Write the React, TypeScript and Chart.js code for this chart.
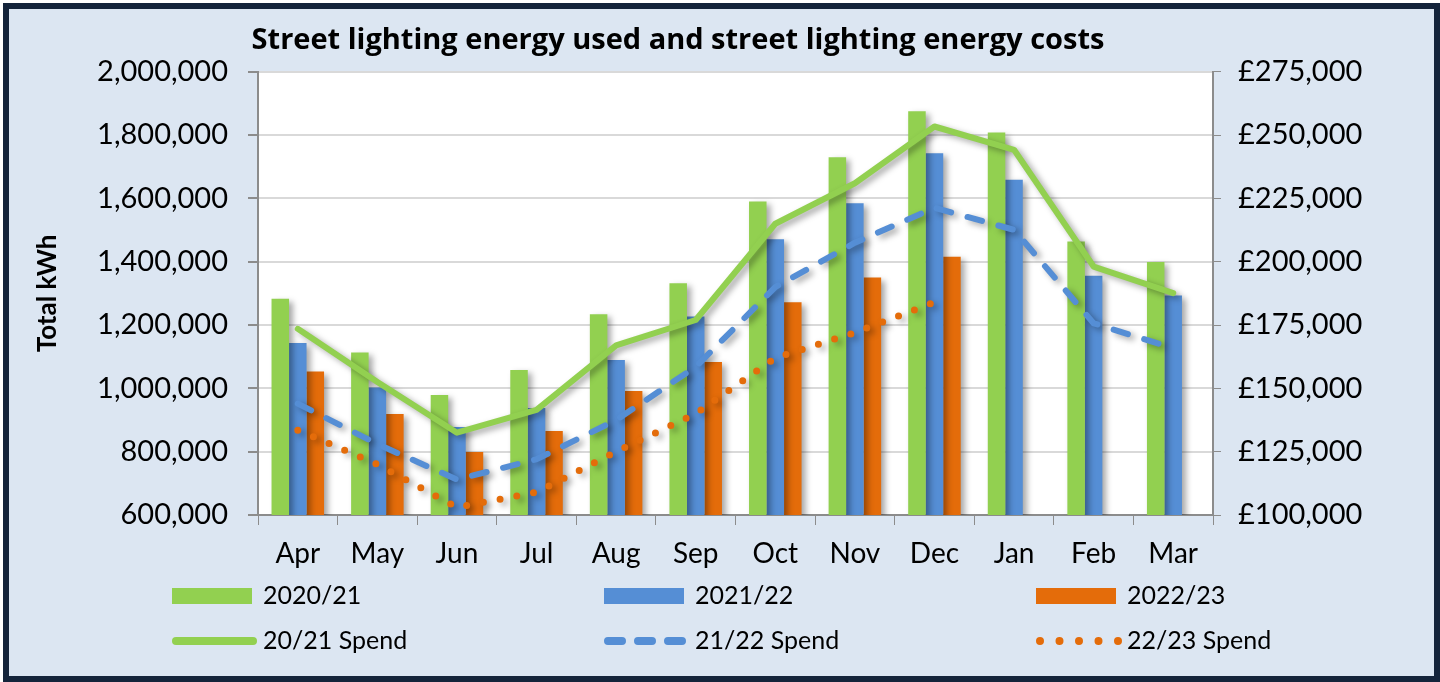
import React, { useEffect, useRef } from 'react';
import { Chart, registerables } from 'chart.js';

Chart.register(...registerables);

const months = ['Apr', 'May', 'Jun', 'Jul', 'Aug', 'Sep', 'Oct', 'Nov', 'Dec', 'Jan', 'Feb', 'Mar'];

const kwh2021 = [1283000, 1113000, 979000, 1058000, 1234000, 1332000, 1590000, 1730000, 1875000, 1808000, 1464000, 1399000];
const kwh2122 = [1143000, 1003000, 878000, 938000, 1090000, 1227000, 1471000, 1585000, 1743000, 1659000, 1356000, 1293000];
const kwh2223 = [1053000, 919000, 799000, 865000, 992000, 1083000, 1272000, 1350000, 1416000, null, null, null];

const spend2021 = [173500, 152500, 132500, 141500, 167000, 177000, 215000, 231000, 253400, 244200, 198100, 187600];
const spend2122 = [144000, 128000, 114000, 122000, 137500, 158500, 190000, 207500, 221300, 212600, 175700, 165800];
const spend2223 = [133500, 120000, 103000, 109000, 125000, 140000, 162000, 172000, 184000, null, null, null];

const kwhAxis = [600000, 2000000, 200000];
const spendAxis = [100000, 275000, 25000];

const seriesLabels = ['2020/21', '2021/22', '2022/23', '20/21 Spend', '21/22 Spend', '22/23 Spend'];

const GREEN = '#92d050';
const BLUE = '#558ed5';
const ORANGE = '#e46c0a';
const FONT = 'Lato, "Open Sans", sans-serif';
const TITLE_FONT = '"Open Sans", Lato, sans-serif';

const shadowPlugin = {
  id: 'excelShadow',
  beforeDatasetsDraw(chart: any) {
    const ctx = chart.ctx;
    ctx.save();
    ctx.shadowColor = 'rgba(0,0,0,0.35)';
    ctx.shadowBlur = 6;
    ctx.shadowOffsetX = 4;
    ctx.shadowOffsetY = 3;
  },
  afterDatasetsDraw(chart: any) {
    chart.ctx.restore();
  },
};

const plotBgPlugin = {
  id: 'plotBg',
  beforeDraw(chart: any) {
    const { ctx, chartArea } = chart;
    if (!chartArea) return;
    ctx.save();
    ctx.fillStyle = '#ffffff';
    ctx.fillRect(chartArea.left, chartArea.top, chartArea.right - chartArea.left, chartArea.bottom - chartArea.top);
    ctx.restore();
  },
};

const gridLegendPlugin = {
  id: 'gridLegend',
  afterDraw(chart: any, _args: any, opts: any) {
    const ctx = chart.ctx;
    const { x0, colW, y0, rowH, sample, gap, font } = opts;
    chart.data.datasets.forEach((ds: any, i: number) => {
      const col = i % 3;
      const row = Math.floor(i / 3);
      const x = x0 + col * colW;
      const y = y0 + row * rowH;
      ctx.save();
      if (ds.type === 'bar') {
        ctx.fillStyle = ds.backgroundColor;
        ctx.fillRect(x, y - 8, sample, 16);
      } else {
        ctx.strokeStyle = ds.borderColor;
        ctx.lineWidth = 8;
        ctx.lineCap = 'round';
        ctx.setLineDash(ds.legendDash || []);
        ctx.beginPath();
        ctx.moveTo(x + 4, y);
        ctx.lineTo(x + ds.legendEnd, y);
        ctx.stroke();
      }
      ctx.setLineDash([]);
      ctx.fillStyle = '#000000';
      ctx.font = font;
      ctx.textBaseline = 'middle';
      ctx.textAlign = 'left';
      ctx.fillText(ds.label, x + sample + gap, y);
      ctx.restore();
    });
  },
};

export default function App() {
  const ref = useRef<HTMLCanvasElement | null>(null);

  useEffect(() => {
    document.body.style.margin = '0';
    const canvas = ref.current;
    if (!canvas) return;
    const chart = new Chart(canvas, {
      type: 'bar',
      data: {
        labels: months,
        datasets: [
          { type: 'bar', label: seriesLabels[0], data: kwh2021, backgroundColor: GREEN, yAxisID: 'y', order: 1, barPercentage: 1, categoryPercentage: 0.66 } as any,
          { type: 'bar', label: seriesLabels[1], data: kwh2122, backgroundColor: BLUE, yAxisID: 'y', order: 1, barPercentage: 1, categoryPercentage: 0.66 } as any,
          { type: 'bar', label: seriesLabels[2], data: kwh2223, backgroundColor: ORANGE, yAxisID: 'y', order: 1, barPercentage: 1, categoryPercentage: 0.66 } as any,
          { type: 'line', label: seriesLabels[3], data: spend2021, borderColor: GREEN, backgroundColor: GREEN, borderWidth: 6, pointRadius: 0, yAxisID: 'y1', order: 0, tension: 0, borderCapStyle: 'round', borderJoinStyle: 'round', legendDash: [], legendEnd: 81 } as any,
          { type: 'line', label: seriesLabels[4], data: spend2122, borderColor: BLUE, backgroundColor: BLUE, borderWidth: 6, pointRadius: 0, yAxisID: 'y1', order: 0, tension: 0, borderDash: [15, 17], borderCapStyle: 'round', legendDash: [14, 16], legendEnd: 80 } as any,
          { type: 'line', label: seriesLabels[5], data: spend2223, borderColor: ORANGE, backgroundColor: ORANGE, borderWidth: 7, pointRadius: 0, yAxisID: 'y1', order: 0, tension: 0, borderDash: [0, 17], borderCapStyle: 'round', legendDash: [0, 19.5], legendEnd: 84 } as any,
        ],
      },
      options: {
        animation: false,
        responsive: false,
        maintainAspectRatio: false,
        devicePixelRatio: 1,
        layout: { padding: { left: -41, right: 46, top: 0, bottom: 101 } },
        plugins: {
          legend: { display: false },
          tooltip: { enabled: false },
          title: {
            display: true,
            text: 'Street lighting energy used and street lighting energy costs',
            color: '#000000',
            font: { family: TITLE_FONT, size: 29, weight: 'bold' },
            padding: { top: 14, bottom: 14 },
          },
          gridLegend: { x0: 163, colW: 432, y0: 587, rowH: 45, sample: 80, gap: 11, font: `25px ${FONT}` },
        } as any,
        scales: {
          x: {
            offset: true,
            grid: { display: true, drawOnChartArea: false, drawTicks: true, tickLength: 10, tickColor: '#8c8c8c', offset: true },
            border: { display: true, color: '#8c8c8c', width: 2 },
            ticks: { color: '#000000', font: { family: FONT, size: 28 }, padding: 12, maxRotation: 0, autoSkip: false },
            afterFit: (s: any) => { s.height = 60; },
          },
          y: {
            position: 'left',
            min: kwhAxis[0],
            max: kwhAxis[1],
            grid: { color: '#d9d9d9', lineWidth: 2, tickColor: '#8c8c8c', tickLength: 10 },
            border: { display: true, color: '#8c8c8c', width: 2 },
            ticks: {
              stepSize: kwhAxis[2],
              color: '#000000',
              font: { family: FONT, size: 29 },
              padding: 20,
              callback: (v: any) => Number(v).toLocaleString('en-GB'),
            },
            title: {
              display: true,
              text: 'Total kWh',
              color: '#000000',
              font: { family: FONT, size: 26, weight: 'bold' },
              padding: { top: 64, bottom: 0 },
            },
            afterFit: (s: any) => { s.width = 290; },
          },
          y1: {
            position: 'right',
            min: spendAxis[0],
            max: spendAxis[1],
            grid: { drawOnChartArea: false, tickColor: '#8c8c8c', tickLength: 8 },
            border: { display: true, color: '#8c8c8c', width: 2 },
            ticks: {
              stepSize: spendAxis[2],
              color: '#000000',
              font: { family: FONT, size: 29 },
              padding: 17,
              callback: (v: any) => '£' + Number(v).toLocaleString('en-GB'),
            },
            afterFit: (s: any) => { s.width = 175; },
          },
        },
      } as any,
      plugins: [plotBgPlugin, shadowPlugin, gridLegendPlugin],
    });
    return () => chart.destroy();
  }, []);

  return (
    <div style={{ position: 'fixed', left: 0, top: 0, width: 1440, height: 682, background: '#ffffff' }}>
      <div
        style={{
          position: 'absolute',
          left: 3,
          top: 3,
          width: 1437,
          height: 679,
          boxSizing: 'border-box',
          border: '6px solid #14243b',
          background: '#dce6f2',
        }}
      >
        <canvas ref={ref} width={1425} height={667} style={{ display: 'block', width: 1425, height: 667 }} />
      </div>
    </div>
  );
}
